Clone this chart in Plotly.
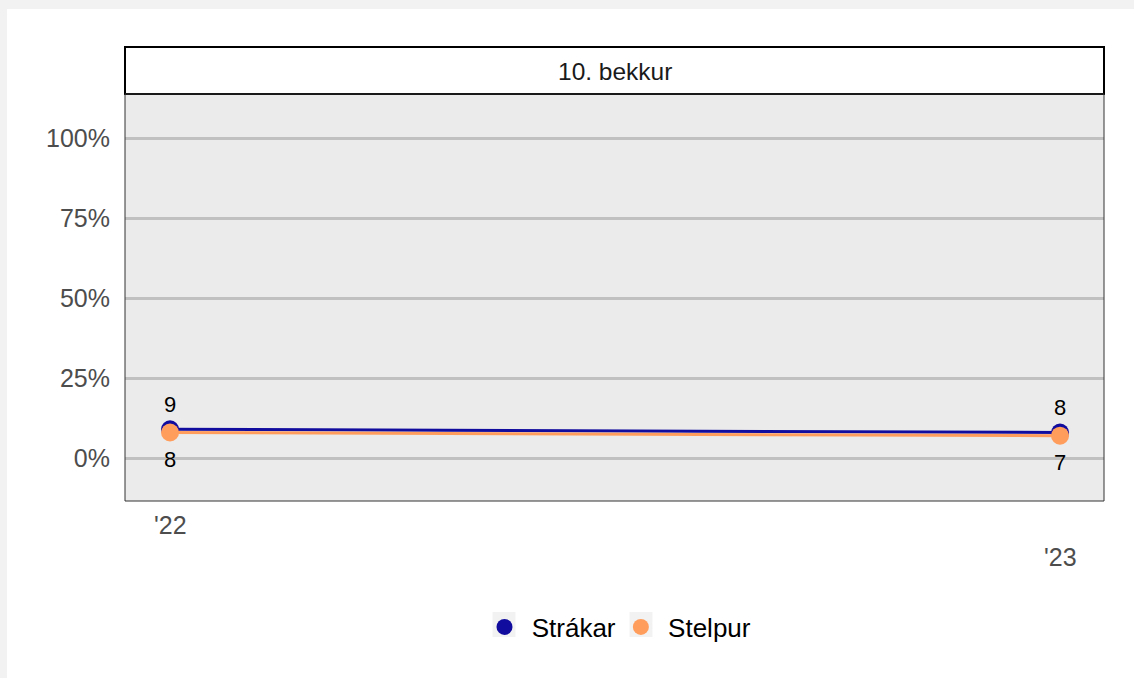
import plotly.graph_objects as go

# Survey share by gender, 10th grade
years = [2022, 2023]
year_labels = ["'22", "'23"]
strakar = [9, 8]
stelpur = [8, 7]
series_names = ["Strákar", "Stelpur"]
facet_title = "10. bekkur"
y_ticks = [0, 25, 50, 75, 100]
y_tick_labels = ["0%", "25%", "50%", "75%", "100%"]

BLUE = "#120c9e"
ORANGE = "#ff9d5c"
AXIS_GREY = "#4d4d4d"
FONT = "Liberation Sans, Arial, sans-serif"

W, H = 1134, 678
L, R, T, B = 125, 30, 94, 177
PW, PH = W - L - R, H - T - B


def px_x(p):
    return (p - L) / PW


def px_y(p):
    return (H - B - p) / PH


fig = go.Figure()

# data lines (orange drawn on top)
for name, vals, col in [(series_names[0], strakar, BLUE), (series_names[1], stelpur, ORANGE)]:
    fig.add_trace(go.Scatter(
        x=years, y=vals, mode="lines+markers", name=name,
        line=dict(color=col, width=3),
        marker=dict(color=col, size=18),
        showlegend=False,
    ))

# legend entries: markers only
for name, col in [(series_names[0], BLUE), (series_names[1], ORANGE)]:
    fig.add_trace(go.Scatter(
        x=[None], y=[None], mode="markers", name="\u00a0" + name,
        marker=dict(color=col, size=18),
    ))

# value labels: above for Strákar, below for Stelpur
for x, v in zip(years, strakar):
    fig.add_annotation(x=x, y=v, text=str(v), showarrow=False, yshift=25,
                       font=dict(size=22, color="black", family=FONT))
for x, v in zip(years, stelpur):
    fig.add_annotation(x=x, y=v, text=str(v), showarrow=False, yshift=-27,
                       font=dict(size=22, color="black", family=FONT))

# staggered x tick labels
for x, lab, py in zip(years, year_labels, [525, 557]):
    fig.add_annotation(x=x, xref="x", y=px_y(py), yref="paper", text=lab,
                       showarrow=False, yanchor="middle",
                       font=dict(size=25, color=AXIS_GREY, family=FONT))

# facet strip
fig.add_shape(type="rect", xref="paper", yref="paper",
              x0=0, x1=1, y0=1, y1=px_y(47),
              fillcolor="white", line=dict(color="black", width=2))
fig.add_annotation(xref="paper", yref="paper", x=0.5, y=px_y(71),
                   text=facet_title, showarrow=False, yanchor="middle",
                   font=dict(size=24.5, color="#1a1a1a", family=FONT))

# panel border
fig.add_shape(type="rect", xref="paper", yref="paper", x0=0, x1=1, y0=0, y1=1,
              line=dict(color="#333333", width=1), layer="above")

# outer frame strips along left and top edges
fig.add_shape(type="rect", xref="paper", yref="paper",
              x0=px_x(0), x1=px_x(7), y0=px_y(0), y1=px_y(H),
              fillcolor="#f2f2f2", line=dict(width=0), layer="below")
fig.add_shape(type="rect", xref="paper", yref="paper",
              x0=px_x(0), x1=px_x(W), y0=px_y(0), y1=px_y(9),
              fillcolor="#f2f2f2", line=dict(width=0), layer="below")

# light key backgrounds behind the legend symbols
for cx in [504, 641]:
    fig.add_shape(type="rect", xref="paper", yref="paper",
                  x0=px_x(cx - 11.5), x1=px_x(cx + 11.5),
                  y0=px_y(637), y1=px_y(612),
                  fillcolor="#f2f2f2", line=dict(width=0), layer="below")

fig.update_xaxes(range=[2021.9494, 2023.0494], showgrid=False, zeroline=False,
                 showticklabels=False, ticks="", showline=False)
fig.update_yaxes(range=[-13.4, 113.75], tickvals=y_ticks, ticktext=y_tick_labels,
                 showgrid=True, gridcolor="#c0c0c0", gridwidth=3, zeroline=False,
                 ticks="", showline=False, ticklabelstandoff=14,
                 tickfont=dict(size=25, color=AXIS_GREY, family=FONT))

fig.update_layout(
    width=W, height=H,
    margin=dict(l=L, r=R, t=T, b=B, pad=0),
    paper_bgcolor="white", plot_bgcolor="#ebebeb",
    font=dict(family=FONT),
    legend=dict(orientation="h", x=0.5 + 6 / PW, xanchor="center", y=px_y(627),
                yanchor="middle", font=dict(size=26, color="black", family=FONT),
                bgcolor="rgba(0,0,0,0)", itemwidth=30),
    hovermode=False,
)

fig.write_html("out.html")
